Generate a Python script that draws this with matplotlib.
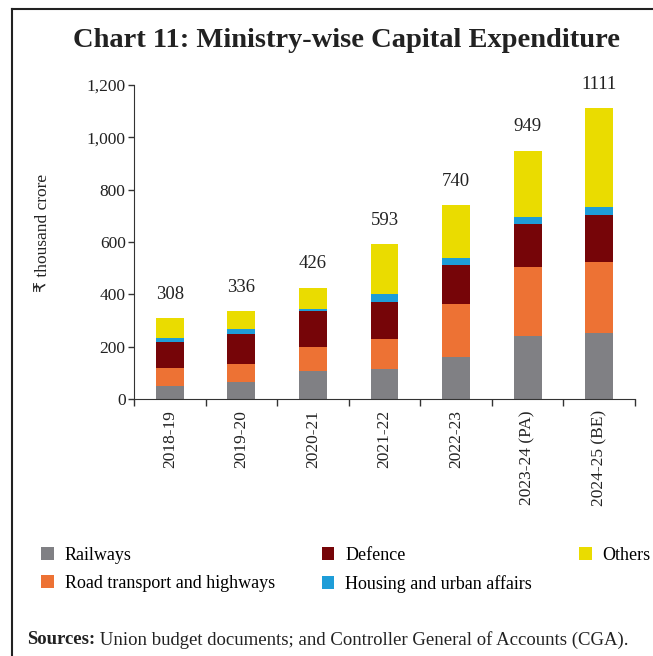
import numpy as np
import matplotlib
matplotlib.use("Agg")
import matplotlib.pyplot as plt
from matplotlib.lines import Line2D

years = ["2018-19", "2019-20", "2020-21", "2021-22", "2022-23", "2023-24 (PA)", "2024-25 (BE)"]
railways = [50, 66, 108, 115, 159, 241, 251]
roads = [68, 68, 89, 114, 205, 265, 273]
defence = [98, 116, 138, 143, 149, 164, 179]
housing = [16, 18, 10, 28, 27, 27, 32]
totals = [308, 336, 426, 593, 740, 949, 1111]
others = [t - a - b - c - d for t, a, b, c, d in zip(totals, railways, roads, defence, housing)]

series = [
    ("Railways", railways, "#808084"),
    ("Road transport and highways", roads, "#ED7234"),
    ("Defence", defence, "#760508"),
    ("Housing and urban affairs", housing, "#1E9DD8"),
    ("Others", others, "#EADC00"),
]

plt.rcParams["font.family"] = ["Liberation Serif", "DejaVu Serif"]
txt = "#222222"

fig = plt.figure(figsize=(6.53, 6.56), dpi=100)
ax = fig.add_axes([0.2052, 0.3918, 0.7672, 0.4786])

x = np.arange(len(years))
bottom = np.zeros(len(years))
handles = []
for name, vals, col in series:
    b = ax.bar(x, vals, width=0.39, bottom=bottom, color=col, label=name)
    handles.append(b)
    bottom += np.array(vals)

# totals above each bar
for xi, t in zip(x, totals):
    ax.annotate(str(t), (xi, t), xytext=(0, 11), textcoords="offset points",
                ha="center", va="bottom", fontsize=13.5, color=txt)

ax.set_xlim(-0.5, len(years) - 0.5)
ax.set_ylim(0, 1200)
ax.set_yticks(range(0, 1201, 200))
ax.set_yticklabels([f"{v:,}" for v in range(0, 1201, 200)], fontsize=12.5, color=txt)
ax.set_xticks(x)
ax.set_xticklabels(years, rotation=90, fontsize=12.5, color=txt)
ax.tick_params(axis="x", length=0, pad=8)
ax.set_xticks(np.arange(-0.5, len(years)), minor=True)
ax.tick_params(axis="x", which="minor", length=5, width=1, color="#333333")
ax.tick_params(axis="y", length=4, width=1, color="#333333", pad=2)
for s in ["top", "right"]:
    ax.spines[s].set_visible(False)
for s in ["left", "bottom"]:
    ax.spines[s].set_color("#333333")
ax.set_ylabel("₹ thousand crore", fontsize=12.5, color=txt,
              family=["Liberation Serif", "DejaVu Sans"])
ax.yaxis.set_label_coords(-0.165, 0.53)

fig.text(0.53, 0.938, "Chart 11: Ministry-wise Capital Expenditure",
         ha="center", va="center", fontsize=20.5, fontweight="bold", color=txt)

fig.legend(handles, [s[0] for s in series],
           ncol=3, loc="upper left", bbox_to_anchor=(0.052, 0.177), frameon=False,
           fontsize=13, handlelength=0.7, handleheight=0.7, handletextpad=0.6,
           columnspacing=2.6, labelspacing=0.6, borderaxespad=0)

src = fig.text(0.041, 0.025, "Sources:", fontsize=13.5, fontweight="bold",
               color=txt, va="center")
ax.annotate(" Union budget documents; and Controller General of Accounts (CGA).",
            xy=(1, 0.5), xycoords=src, va="center", ha="left",
            fontsize=13.5, color=txt, annotation_clip=False)

# frame lines on left and top
fig.add_artist(Line2D([12 / 653, 12 / 653], [0, 1 - 9 / 656], color=txt, lw=1.5))
fig.add_artist(Line2D([12 / 653, 1], [1 - 9 / 656, 1 - 9 / 656], color=txt, lw=1.5))

fig.savefig("out.png", dpi=100)
